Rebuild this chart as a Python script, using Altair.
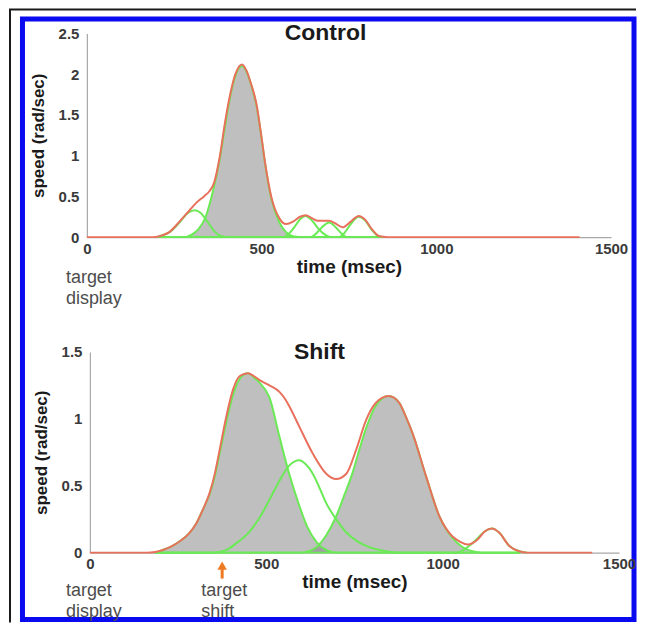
import altair as alt
import pandas as pd

# ---------------- data (time in msec, speed in rad/sec) ----------------
# Control panel: measured speed (red)
CTRL_TOTAL_T = [0, 190, 215, 237, 265, 294, 313, 335, 350, 365, 380, 395, 410, 425, 444, 456, 470, 485,
                499, 509, 528, 551, 570, 590, 610, 626, 645, 661, 680, 694, 710, 732, 755, 778, 795,
                815, 837, 860, 1410]
CTRL_TOTAL_V = [0, 0, 0.02, 0.065, 0.19, 0.33, 0.42, 0.5, 0.56, 0.68, 0.98, 1.4, 1.75, 2.0, 2.12, 2.05,
                1.88, 1.64, 1.25, 0.94, 0.49, 0.23, 0.16, 0.19, 0.25, 0.27, 0.23, 0.2, 0.2, 0.2, 0.17,
                0.12, 0.19, 0.26, 0.22, 0.1, 0.01, 0, 0]
# Control panel: submovements (green)
CTRL_SUB1_T = [200, 215, 240, 265, 290, 309, 325, 345, 365, 385, 400, 850]
CTRL_SUB1_V = [0, 0.02, 0.07, 0.18, 0.3, 0.33, 0.3, 0.19, 0.07, 0.01, 0, 0]
CTRL_SUB2_T = [200, 280, 300, 320, 340, 360, 380, 395, 410, 425, 444, 456, 470, 485, 499, 509, 528,
               551, 570, 590, 610, 850]
CTRL_SUB2_V = [0, 0, 0.03, 0.1, 0.25, 0.55, 0.95, 1.35, 1.72, 1.98, 2.1, 2.04, 1.87, 1.62, 1.24, 0.93,
               0.47, 0.18, 0.06, 0.01, 0, 0]
CTRL_SUB3_T = [200, 560, 575, 595, 610, 626, 645, 665, 685, 700, 850]
CTRL_SUB3_V = [0, 0, 0.03, 0.13, 0.22, 0.26, 0.2, 0.09, 0.02, 0, 0]
CTRL_SUB4_T = [200, 640, 655, 670, 694, 712, 730, 745, 850]
CTRL_SUB4_V = [0, 0, 0.04, 0.11, 0.18, 0.12, 0.04, 0, 0]
CTRL_SUB5_T = [200, 720, 735, 755, 778, 795, 815, 835, 850]
CTRL_SUB5_V = [0, 0, 0.04, 0.16, 0.25, 0.21, 0.09, 0.01, 0]
CTRL_FILLED = ["sub2"]

# Shift panel: measured speed (red)
SHIFT_TOTAL_T = [0, 160, 185, 207, 230, 255, 280, 302, 320, 340, 355, 368, 387, 406, 425, 448, 465,
                 481, 509, 538, 553, 566, 594, 632, 670, 698, 727, 755, 783, 811, 847, 877, 895, 915,
                 953, 991, 1028, 1050, 1071, 1100, 1120, 1140, 1160, 1189, 1217, 1240, 1424]
SHIFT_TOTAL_V = [0, 0, 0.005, 0.02, 0.045, 0.085, 0.14, 0.22, 0.32, 0.45, 0.6, 0.77, 1.02, 1.22, 1.32,
                 1.34, 1.32, 1.29, 1.25, 1.2, 1.15, 1.09, 0.94, 0.74, 0.59, 0.55, 0.59, 0.77, 0.99,
                 1.12, 1.17, 1.12, 1.02, 0.89, 0.57, 0.27, 0.12, 0.08, 0.06, 0.1, 0.16, 0.18, 0.15,
                 0.05, 0.01, 0, 0]
# Shift panel: submovements (green)
SHIFT_SUB1_T = [185, 207, 230, 255, 280, 302, 320, 340, 355, 368, 387, 406, 425, 448, 465, 481, 509,
                538, 566, 590, 615, 642, 670, 700, 1220]
SHIFT_SUB1_V = [0, 0.02, 0.045, 0.085, 0.14, 0.22, 0.32, 0.44, 0.58, 0.74, 0.98, 1.18, 1.3, 1.34, 1.31,
                1.27, 1.16, 0.86, 0.58, 0.38, 0.2, 0.08, 0.02, 0, 0]
SHIFT_SUB2_T = [185, 350, 387, 415, 450, 481, 510, 538, 565, 594, 612, 632, 650, 670, 698, 727, 755,
                783, 840, 870, 1220]
SHIFT_SUB2_V = [0, 0, 0.02, 0.07, 0.15, 0.26, 0.4, 0.54, 0.65, 0.69, 0.66, 0.59, 0.49, 0.37, 0.25,
                0.15, 0.09, 0.05, 0.01, 0, 0]
SHIFT_SUB3_T = [185, 600, 620, 642, 670, 698, 720, 745, 765, 783, 811, 847, 877, 895, 915, 953, 991,
                1028, 1057, 1085, 1110, 1220]
SHIFT_SUB3_V = [0, 0, 0.01, 0.04, 0.13, 0.27, 0.42, 0.6, 0.78, 0.93, 1.1, 1.17, 1.12, 1.02, 0.89, 0.57,
                0.27, 0.11, 0.04, 0.01, 0, 0]
SHIFT_SUB4_T = [185, 1040, 1060, 1080, 1100, 1120, 1140, 1160, 1189, 1217, 1240]
SHIFT_SUB4_V = [0, 0, 0.02, 0.06, 0.11, 0.16, 0.18, 0.15, 0.05, 0.01, 0]
SHIFT_FILLED = ["sub1", "sub3"]

TARGET_SHIFT_T = 375  # orange arrow

X_TICKS = [0, 500, 1000, 1500]
CTRL_Y_TICKS = [0, 0.5, 1, 1.5, 2, 2.5]
SHIFT_Y_TICKS = [0, 0.5, 1, 1.5]

# ---------------- styling ----------------
RED = "#e8705c"
GREEN = "#6aea55"
FILL = "#808080"
BLUE = "#0a0af0"
ORANGE = "#f07a22"
FONT = "Liberation Sans"


def frame(series):
    rows = []
    for name, ts, vs in series:
        for t, v in zip(ts, vs):
            rows.append({"s": name, "t": t, "v": v})
    return pd.DataFrame(rows)


def encodings(ymax, yvals, xrange, yoffset):
    x = alt.X("t:Q",
              scale=alt.Scale(domain=[0, 1500], nice=False, zero=True, range=xrange),
              axis=alt.Axis(values=X_TICKS, format="d", title="time (msec)", grid=False,
                            ticks=False, labelFlush=False,
                            labelFont=FONT, labelFontSize=15, labelFontWeight="bold",
                            labelColor="#3a3a3a", labelPadding=4,
                            domainColor="#a8a8a8", domainWidth=1.2,
                            titleFont=FONT, titleFontSize=19, titleFontWeight="bold",
                            titleColor="#1a1a1a", titlePadding=1))
    y = alt.Y("v:Q", stack=None,
              scale=alt.Scale(domain=[0, ymax], nice=False, zero=True),
              axis=alt.Axis(values=yvals, format="~g", title="speed (rad/sec)", grid=False,
                            ticks=False, labelFlush=False, labelFont=FONT, labelFontSize=15,
                            labelFontWeight="bold", labelColor="#3a3a3a", labelPadding=8,
                            domainColor="#a8a8a8", domainWidth=1.2, offset=yoffset,
                            titleFont=FONT, titleFontSize=17, titleFontWeight="bold",
                            titleColor="#1a1a1a", titlePadding=11))
    return x, y


def curves(df_sub, df_tot, filled, x, y):
    area = alt.Chart(df_sub[df_sub["s"].isin(filled)]).mark_area(
        interpolate="monotone", color=FILL, opacity=0.5
    ).encode(x=x, y=y, detail="s:N")
    greens = alt.Chart(df_sub).mark_line(
        interpolate="monotone", color=GREEN, strokeWidth=2
    ).encode(x=x, y=y, detail="s:N")
    red = alt.Chart(df_tot).mark_line(
        interpolate="monotone", color=RED, strokeWidth=2
    ).encode(x=x, y=y)
    return [area, greens, red]


one = pd.DataFrame({"k": [0]})


def label(text, px, py, size=18, weight="normal", color="#4d4d4d", align="left"):
    return alt.Chart(one).mark_text(
        text=text, font=FONT, fontSize=size, fontWeight=weight, color=color,
        align=align, baseline="middle"
    ).encode(x=alt.value(px), y=alt.value(py))


# ---------------- Control panel ----------------
cx, cy = encodings(2.5, CTRL_Y_TICKS, [0, 525], 0)
ctrl_sub = frame([("sub1", CTRL_SUB1_T, CTRL_SUB1_V), ("sub2", CTRL_SUB2_T, CTRL_SUB2_V),
                  ("sub3", CTRL_SUB3_T, CTRL_SUB3_V), ("sub4", CTRL_SUB4_T, CTRL_SUB4_V),
                  ("sub5", CTRL_SUB5_T, CTRL_SUB5_V)])
ctrl_tot = frame([("total", CTRL_TOTAL_T, CTRL_TOTAL_V)])

border = alt.Chart(one).mark_rect(fillOpacity=0, stroke=BLUE, strokeWidth=5).encode(
    x=alt.value(-64.5), x2=alt.value(548), y=alt.value(-14.5), y2=alt.value(587))
black_v = alt.Chart(one).mark_rule(color="#1a1a1a", strokeWidth=2).encode(
    x=alt.value(-77), y=alt.value(-24), y2=alt.value(590))
black_h = alt.Chart(one).mark_rule(color="#1a1a1a", strokeWidth=2).encode(
    x=alt.value(-78), x2=alt.value(550), y=alt.value(-24))

top = alt.layer(
    *curves(ctrl_sub, ctrl_tot, CTRL_FILLED, cx, cy),
    label("Control", 239, 0, size=23, weight="bold", color="#1a1a1a", align="center"),
    label("target", -21, 245),
    label("display", -21, 266),
    border, black_v, black_h,
).properties(width=525, height=204)

# ---------------- Shift panel ----------------
sx, sy = encodings(1.5, SHIFT_Y_TICKS, [3, 533], -3)
shift_sub = frame([("sub1", SHIFT_SUB1_T, SHIFT_SUB1_V), ("sub2", SHIFT_SUB2_T, SHIFT_SUB2_V),
                   ("sub3", SHIFT_SUB3_T, SHIFT_SUB3_V), ("sub4", SHIFT_SUB4_T, SHIFT_SUB4_V)])
shift_tot = frame([("total", SHIFT_TOTAL_T, SHIFT_TOTAL_V)])
arrow_df = pd.DataFrame({"t": [TARGET_SHIFT_T]})

arrow_shaft = alt.Chart(arrow_df).mark_rule(color=ORANGE, strokeWidth=3).encode(
    x=sx, y=alt.value(227), y2=alt.value(216))
arrow_head = alt.Chart(arrow_df).mark_point(
    shape="triangle-up", filled=True, size=90, color=ORANGE, opacity=1
).encode(x=sx, y=alt.value(214))


def shift_label(text, py):
    return alt.Chart(arrow_df).mark_text(
        text=text, font=FONT, fontSize=18, color="#4d4d4d",
        align="left", baseline="middle", dx=-21
    ).encode(x=sx, y=alt.value(py))


bottom = alt.layer(
    *curves(shift_sub, shift_tot, SHIFT_FILLED, sx, sy),
    label("Shift", 233, 0, size=23, weight="bold", color="#1a1a1a", align="center"),
    label("target", -21, 239),
    label("display", -21, 260),
    arrow_shaft, arrow_head,
    shift_label("target", 239), shift_label("shift", 260),
).properties(width=533, height=201)

chart = alt.vconcat(top, bottom, spacing=115, bounds="flush").resolve_scale(
    x="independent", y="independent"
).properties(
    padding={"left": 0, "top": 0, "right": 0, "bottom": 0},
    autosize=alt.AutoSizeParams(type="pad"),
).configure_view(strokeWidth=0)

chart.save("out.html", embed_options={"renderer": "svg", "actions": False})
